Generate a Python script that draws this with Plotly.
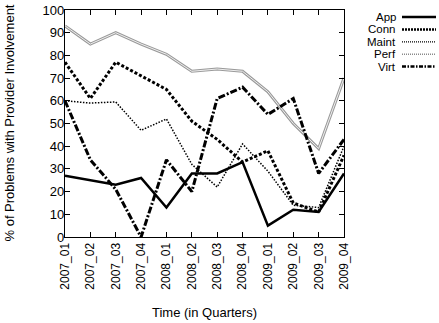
import plotly.graph_objects as go

quarters = ["2007_01", "2007_02", "2007_03", "2007_04", "2008_01", "2008_02",
            "2008_03", "2008_04", "2009_01", "2009_02", "2009_03", "2009_04"]
app = [27, 25, 23, 26, 13, 28, 28, 33, 5, 12, 11, 28]
conn = [77, 61, 77, 71, 65, 51, 43, 33, 38, 15, 11, 36]
maint = [60, 59, 59.5, 47, 52, 32, 22, 41, 29, 14, 13, 40]
perf = [93, 85, 90, 85, 80.5, 73, 74, 73, 64, 50, 39, 70]
virt = [60, 34, 21, 0, 34, 20, 61, 66, 54, 61, 28, 43]
y_ticks = list(range(0, 101, 10))
series_names = ["App", "Conn", "Maint", "Perf", "Virt"]

FONT = "Liberation Sans, Arial, sans-serif"

# plot-area geometry (pixels)
W, H = 439, 323
L, R, T, B = 65, 344, 10, 237
PW, PH = R - L, B - T

def px_x(x):
    return (x - L) / PW

def px_y(y):
    return 1 - (y - T) / PH

styles = {
    "App": dict(color="black", width=2.5, dash="solid"),
    "Conn": dict(color="black", width=3, dash="3px,2px"),
    "Maint": dict(color="black", width=1.5, dash="1.5px,1.5px"),
    "Virt": dict(color="black", width=3, dash="7px,2px,2px,2px"),
}

fig = go.Figure()
fig.add_trace(go.Scatter(x=quarters, y=app, mode="lines", name="App", line=styles["App"]))
fig.add_trace(go.Scatter(x=quarters, y=conn, mode="lines", name="Conn", line=styles["Conn"]))
fig.add_trace(go.Scatter(x=quarters, y=maint, mode="lines", name="Maint", line=styles["Maint"]))
fig.add_trace(go.Scatter(x=quarters, y=perf, mode="lines", name="Perf",
                         line=dict(color="#9a9a9a", width=3)))
fig.add_trace(go.Scatter(x=quarters, y=perf, mode="lines", name="Perf inner",
                         line=dict(color="#f0f0f0", width=1)))
fig.add_trace(go.Scatter(x=quarters, y=virt, mode="lines", name="Virt", line=styles["Virt"]))

# gnuplot-style legend: right-aligned text with sample lines to the right
legend_lines = {
    "App": dict(color="black", width=2.5),
    "Conn": dict(color="black", width=2.5, dash="2px,1px"),
    "Maint": dict(color="black", width=1.2, dash="1px,1px"),
    "Perf": dict(color="#8a8a8a", width=1.5, dash="1px,1px"),
    "Virt": dict(color="black", width=2.5, dash="4px,1.5px,1.5px,1.5px"),
}
for i, name in enumerate(series_names):
    yy = 17 + 12.4 * i
    fig.add_annotation(x=px_x(397), y=px_y(yy), xref="paper", yref="paper", text=name,
                       showarrow=False, xanchor="right", yanchor="middle", borderpad=0,
                       font=dict(size=11.5, color="black", family=FONT))
    fig.add_shape(type="line", xref="paper", yref="paper",
                  x0=px_x(402), x1=px_x(436), y0=px_y(yy), y1=px_y(yy),
                  line=legend_lines[name])

# axis titles
fig.add_annotation(x=0.5, y=px_y(312), xref="paper", yref="paper",
                   text="Time (in Quarters)", showarrow=False,
                   xanchor="center", yanchor="middle",
                   font=dict(size=13, color="black", family=FONT))
fig.add_annotation(x=px_x(9), y=0.5, xref="paper", yref="paper",
                   text="% of Problems with Provider Involvement", showarrow=False,
                   textangle=-90, xanchor="center", yanchor="middle",
                   font=dict(size=13, color="black", family=FONT))

axis_common = dict(showline=True, linecolor="black", linewidth=1.3, mirror="allticks",
                   ticks="inside", ticklen=5, tickcolor="black", showgrid=False,
                   zeroline=False, automargin=False)

fig.update_layout(
    width=W, height=H,
    margin=dict(l=L, r=W - R, t=T, b=H - B, autoexpand=False),
    paper_bgcolor="white", plot_bgcolor="white",
    showlegend=False,
    font=dict(family=FONT, size=12, color="black"),
    xaxis=dict(type="category", range=[0, 11], tickangle=-90,
               tickfont=dict(size=12, color="black", family=FONT), **axis_common),
    yaxis=dict(range=[0, 100], tickvals=y_ticks, ticklabelstandoff=-3,
               tickfont=dict(size=13, color="black", family=FONT), **axis_common),
)

fig.write_html("out.html", config={"displayModeBar": False},
               post_script="document.body.style.margin='0';document.body.style.overflow='hidden';")
